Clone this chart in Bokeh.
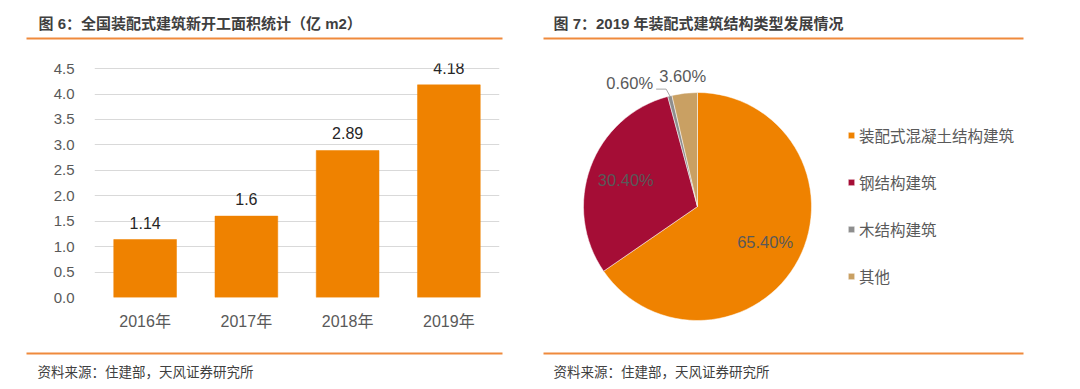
import numpy as np
from bokeh.plotting import figure
from bokeh.models import Range1d, FixedTicker, NumeralTickFormatter, Legend, LegendItem, ColumnDataSource
from bokeh.layouts import row, column
from bokeh.core.properties import value
from bokeh.embed import file_html
from bokeh.resources import INLINE

# ---------------- data ----------------
title_left = "图 6：全国装配式建筑新开工面积统计（亿 m2）"
title_right = "图 7：2019 年装配式建筑结构类型发展情况"
source_note = "资料来源：住建部，天风证券研究所"

years = ["2016年", "2017年", "2018年", "2019年"]
area = [1.14, 1.6, 2.89, 4.18]
y_ticks = [0.0, 0.5, 1.0, 1.5, 2.0, 2.5, 3.0, 3.5, 4.0, 4.5]

types = ["装配式混凝土结构建筑", "钢结构建筑", "木结构建筑", "其他"]
shares = [65.4, 30.4, 0.6, 3.6]
type_colors = ["#EF8200", "#A50D36", "#8E8E8E", "#C9A063"]

# ---------------- styles ----------------
ORANGE = "#EF8A3C"
BAR = "#EF8200"
GRID = "#D9D9D9"
LBL = "#595959"
MIX = "Liberation Sans, Noto Sans CJK SC"
CJK = "Noto Sans CJK SC"


def no_align(p):
    if "frame_align" in p.properties():
        p.frame_align = False
    return p


def deco(y0, y1):
    p = figure(width=1080, height=y1 - y0, x_range=Range1d(0, 1080), y_range=Range1d(y1, y0),
               x_axis_type=None, y_axis_type=None, toolbar_location=None,
               output_backend="svg", min_border=0, outline_line_color=None)
    p.grid.visible = False
    return no_align(p)


top = deco(0, 46)
top.text(x=[38, 553], y=[23, 23], text=[title_left, title_right], text_font=value(MIX),
         text_font_size="15px", text_font_style="bold", text_color="#3F3F3F",
         text_baseline="middle", text_align="left")
top.multi_line(xs=[[26, 502], [543, 1023]], ys=[[38, 38], [38, 38]], line_color=ORANGE, line_width=2)

bottom = deco(340, 389)
bottom.multi_line(xs=[[26, 502], [543, 1023]], ys=[[353, 353], [353, 353]], line_color=ORANGE, line_width=2)
bottom.text(x=[37, 553], y=[370, 370], text=[source_note, source_note], text_font=value(CJK),
            text_font_size="13.5px", text_color="#404040", text_baseline="middle", text_align="left")

# ---------------- bar chart ----------------
bar = figure(x_range=years, y_range=Range1d(0, 4.6), width=540, height=294,
             toolbar_location=None, output_backend="svg",
             min_border_left=94, min_border_right=41, min_border_top=17, min_border_bottom=43,
             outline_line_color=None)
no_align(bar)
bsrc = ColumnDataSource(dict(x=years, y=area, lab=[str(v) for v in area]))
bar.vbar(x="x", top="y", width=0.62, source=bsrc, fill_color=BAR, line_color=BAR, line_width=0.5)
bar.text(x="x", y="y", text="lab", source=bsrc, y_offset=-17, text_align="center",
         text_baseline="middle", text_font=value("Liberation Sans"), text_font_size="16px",
         text_color="#262626")
bar.xgrid.visible = False
bar.ygrid.grid_line_color = GRID
bar.ygrid.grid_line_width = 1
bar.yaxis.ticker = FixedTicker(ticks=y_ticks)
bar.yaxis.formatter = NumeralTickFormatter(format="0.0")
for ax in (bar.xaxis, bar.yaxis):
    ax.axis_line_color = None
    ax.major_tick_line_color = None
    ax.minor_tick_line_color = None
    ax.major_tick_out = 0
    ax.major_tick_in = 0
    ax.major_label_text_color = LBL
    ax.major_label_text_font = MIX
bar.yaxis.major_label_text_font_size = "15px"
bar.xaxis.major_label_text_font_size = "16px"
bar.yaxis.major_label_standoff = 20
bar.xaxis.major_label_standoff = 15

# ---------------- pie chart ----------------
R = 114
pie = figure(width=540, height=294, x_range=Range1d(-157, 383), y_range=Range1d(-134, 160),
             x_axis_type=None, y_axis_type=None, toolbar_location=None, output_backend="svg",
             min_border=0, outline_line_color=None)
no_align(pie)
pie.grid.visible = False
frac = np.array(shares) / np.sum(shares)
cum = np.concatenate([[0.0], np.cumsum(frac)])
start = np.pi / 2 - cum[:-1] * 2 * np.pi
end = np.pi / 2 - cum[1:] * 2 * np.pi
mid = (start + end) / 2
psrc = ColumnDataSource(dict(start=start, end=end, color=type_colors, name=types))
wr = pie.wedge(x=0, y=0, radius=R, start_angle="start", end_angle="end", direction="clock",
               fill_color="color", line_color="white", line_width=0.5, source=psrc)

labels = [f"{v:.2f}%" for v in shares]
ri = 0.67 * R
pie.text(x=list(ri * np.cos(mid[:2])), y=list(ri * np.sin(mid[:2])), text=labels[:2],
         text_align="center", text_baseline="middle", text_font=value("Liberation Sans"),
         text_font_size="16.5px", text_color=LBL)
ro = R + 17
pie.text(x=[ro * np.cos(mid[3])], y=[ro * np.sin(mid[3])], text=[labels[3]],
         text_align="center", text_baseline="middle", text_font=value("Liberation Sans"),
         text_font_size="16.5px", text_color=LBL)
ex, ey = R * np.cos(mid[2]), R * np.sin(mid[2])
kx, ky = (R + 7) * np.cos(mid[2]) - 2, (R + 7) * np.sin(mid[2])
pie.line(x=[ex, kx, kx - 10], y=[ey, ky, ky], line_color="#A6A6A6", line_width=1)
pie.text(x=[kx - 13], y=[ky + 6], text=[labels[2]], text_align="right", text_baseline="middle",
         text_font=value("Liberation Sans"), text_font_size="16.5px", text_color=LBL)

legend = Legend(items=[LegendItem(label=t, renderers=[wr], index=i) for i, t in enumerate(types)],
                location=(307, 53), orientation="vertical", label_text_font=CJK,
                label_text_font_size="15.5px", label_text_color=LBL, glyph_width=8, glyph_height=8,
                label_height=20, label_standoff=4, spacing=25, padding=0, margin=0,
                border_line_color=None, background_fill_alpha=0)
pie.add_layout(legend)

# ---------------- layout ----------------
page = column(top, row(bar, pie, spacing=0), bottom, spacing=0)

open("out.html", "w").write(file_html(page, INLINE))
